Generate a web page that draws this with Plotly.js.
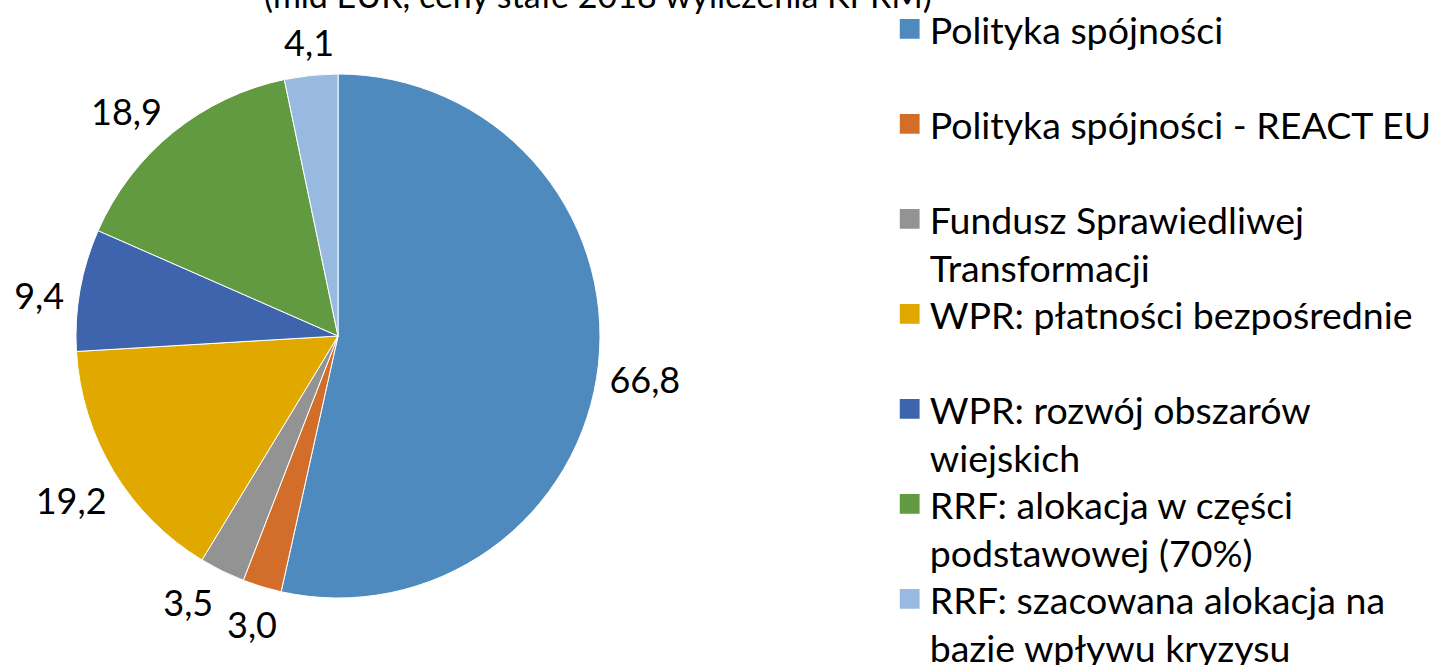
<!DOCTYPE html>
<html>
<head>
<meta charset="utf-8">
<script src="https://cdn.plot.ly/plotly-3.0.1.min.js"></script>
<style>html,body{margin:0;padding:0;background:#fff;}#chart{width:1449px;height:665px;}</style>
</head>
<body>
<div id="chart"></div>
<script>
const categories = [
  "Polityka spójności",
  "Polityka spójności - REACT EU",
  "Fundusz Sprawiedliwej<br>Transformacji",
  "WPR: płatności bezpośrednie",
  "WPR: rozwój obszarów<br>wiejskich",
  "RRF: alokacja w części<br>podstawowej (70%)",
  "RRF: szacowana alokacja na<br>bazie wpływu kryzysu"
];
const values = [66.8, 3.0, 3.5, 19.2, 9.4, 18.9, 4.1];
const colors = ["#4E8ABE", "#D36E2A", "#939393", "#E1A900", "#3D64AD", "#629A41", "#98B9E0"];
const titleText = "(mld EUR, ceny stałe 2018 wyliczenia KPRM)";

// single-line legend entries get a blank second line so every entry has the same height
const legendLabels = categories.map(c => c.indexOf("<br>") >= 0 ? c : c + "<br> ");

const FONT = "Lato, 'Open Sans', sans-serif";

const trace = {
  type: "pie",
  labels: legendLabels,
  values: values,
  sort: false,
  direction: "clockwise",
  rotation: 0,
  marker: {colors: colors, line: {color: "#ffffff", width: 1}},
  textposition: "outside",
  texttemplate: "%{value:.1f}",
  textfont: {family: FONT, size: 36, color: "#000"},
  outsidetextfont: {family: FONT, size: 36, color: "#000"},
  automargin: false,
  hoverinfo: "label+value",
  domain: {x: [76/1449, 600/1449], y: [67/665, 591/665]}
};

const layout = {
  width: 1449, height: 665,
  margin: {l: 0, r: 0, t: 0, b: 0},
  paper_bgcolor: "#ffffff",
  separators: ", ",
  font: {family: FONT, size: 36, color: "#000"},
  title: {
    text: titleText,
    font: {family: FONT, size: 34, color: "#000"},
    xref: "container", yref: "container",
    x: 598/1449, xanchor: "center",
    y: 1 - 8/665, yanchor: "bottom"
  },
  showlegend: true,
  legend: {
    x: 0.614, xanchor: "left",
    y: 1.0, yanchor: "top",
    valign: "top",
    font: {family: FONT, size: 37.5, color: "#000"},
    bgcolor: "rgba(0,0,0,0)",
    traceorder: "normal"
  }
};

Plotly.newPlot("chart", [trace], layout, {displayModeBar: false, staticPlot: true}).then(gd => {
  // bigger legend squares, as in the reference
  gd.querySelectorAll(".legend .legendpoints path").forEach(p => {
    const t = p.getAttribute("transform") || "";
    p.setAttribute("transform", t + " scale(1.8)");
  });
  // evenly spaced legend entries (95 px step)
  const items = gd.querySelectorAll(".legend .traces");
  let y0 = null;
  items.forEach((g, i) => {
    const t = g.getAttribute("transform") || "";
    const m = t.match(/translate\(([-\d.]+)[ ,]+([-\d.]+)\)/);
    if (!m) return;
    const x = parseFloat(m[1]), y = parseFloat(m[2]);
    if (y0 === null) y0 = y - 2;
    g.setAttribute("transform", "translate(" + x + "," + (y0 + i * 95) + ")");
  });
  // no leader lines on the outside labels
  gd.querySelectorAll(".pielayer path.textline").forEach(p => p.style.display = "none");
  // label placement nudges to sit where the reference puts them
  const nudges = {0: [0, 14], 1: [26, -9], 2: [2, 13], 3: [4, 23], 4: [-5, 6], 5: [0, -8], 6: [34, -12]};
  gd.querySelectorAll(".pielayer .slice").forEach((s, i) => {
    if (!nudges[i]) return;
    const txt = s.querySelector("g.slicetext");
    if (!txt) return;
    const t = txt.getAttribute("transform") || "";
    txt.setAttribute("transform", "translate(" + nudges[i][0] + "," + nudges[i][1] + ") " + t);
  });
});
</script>
</body>
</html>
